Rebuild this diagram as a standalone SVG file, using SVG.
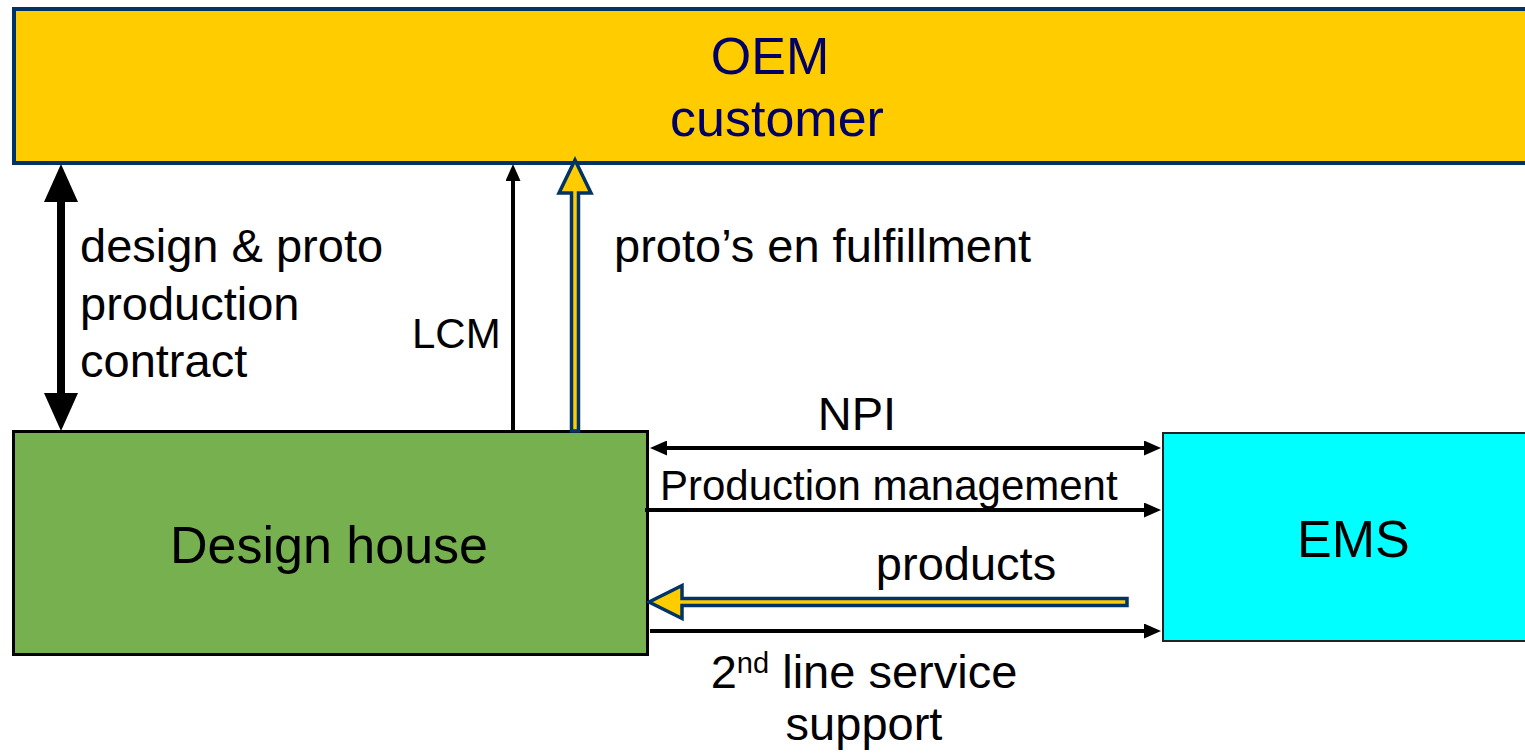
<svg xmlns="http://www.w3.org/2000/svg" width="1525" height="755" viewBox="0 0 1525 755">
  <style>
    text { font-family: "Liberation Sans", Arial, sans-serif; fill: #000; }
    .oem { font-size: 52px; fill: #000066; }
    .lbl { font-size: 47px; }
    .big { font-size: 52px; }
    .mid { font-size: 42px; }
    .thin { stroke: #000; stroke-width: 4; fill: none; }
    .bold { stroke: #000; stroke-width: 8; fill: none; }
    .hollow { fill: #FFCC00; stroke: #003366; stroke-width: 3.5; stroke-linejoin: miter; }
  </style>
  <defs>
    <marker id="head" markerUnits="userSpaceOnUse" viewBox="0 0 17 15" refX="7" refY="7.5" markerWidth="17" markerHeight="15" orient="auto-start-reverse">
      <path d="M0,0 L17,7.5 L0,15 z" fill="#000"/>
    </marker>
    <marker id="headBig" markerUnits="userSpaceOnUse" viewBox="0 0 38 34" refX="20" refY="17" markerWidth="38" markerHeight="34" orient="auto-start-reverse">
      <path d="M0,0 L38,17 L0,34 z" fill="#000"/>
    </marker>
  </defs>

  <!-- OEM customer -->
  <g id="oem">
    <rect x="14" y="9" width="1530" height="154" fill="#FFCC00" stroke="#003366" stroke-width="4"/>
    <text class="oem" x="770" y="74" text-anchor="middle">OEM</text>
    <text class="oem" x="777" y="136" text-anchor="middle">customer</text>
  </g>

  <!-- Design house -->
  <g id="design-house">
    <rect x="13.5" y="431.5" width="634" height="223" fill="#77B04F" stroke="#000" stroke-width="3"/>
    <text class="big" x="170" y="563">Design house</text>
  </g>

  <!-- EMS -->
  <g id="ems">
    <rect x="1163" y="433" width="400" height="208" fill="#00FFFF" stroke="#222" stroke-width="2"/>
    <text class="big" x="1297" y="557">EMS</text>
  </g>

  <!-- connectors -->
  <g id="connectors">
    <!-- design & proto production contract -->
    <line class="bold" x1="61" y1="182" x2="61" y2="413" marker-start="url(#headBig)" marker-end="url(#headBig)"/>
    <!-- LCM -->
    <line class="thin" x1="513" y1="431" x2="513" y2="174" marker-end="url(#head)"/>
    <!-- proto's en fulfillment (hollow yellow arrow) -->
    <path class="hollow" d="M575,160 L591,193 L578.5,193 L578.5,431 L571.5,431 L571.5,193 L559,193 Z"/>
    <!-- NPI -->
    <line class="thin" x1="660" y1="448" x2="1151" y2="448" marker-start="url(#head)" marker-end="url(#head)"/>
    <!-- Production management -->
    <line class="thin" x1="645" y1="510" x2="1151" y2="510" marker-end="url(#head)"/>
    <!-- products (hollow yellow arrow) -->
    <path class="hollow" d="M649,602 L682,585.5 L682,598.5 L1127,598.5 L1127,605.5 L682,605.5 L682,618.5 Z"/>
    <!-- 2nd line service support -->
    <line class="thin" x1="650" y1="631" x2="1151" y2="631" marker-end="url(#head)"/>
  </g>

  <!-- connector labels -->
  <g id="labels">
    <text class="lbl" x="80" y="262">design &amp; proto</text>
    <text class="lbl" x="80" y="320">production</text>
    <text class="lbl" x="80" y="377">contract</text>
    <text class="mid" x="412" y="348">LCM</text>
    <text class="lbl" x="614" y="262">proto’s en fulfillment</text>
    <text class="lbl" x="857" y="430" text-anchor="middle">NPI</text>
    <text class="mid" x="660" y="500">Production management</text>
    <text class="lbl" x="966" y="580" text-anchor="middle">products</text>
    <text class="lbl" x="864" y="688" text-anchor="middle">2<tspan font-size="29" dy="-15">nd</tspan><tspan dy="15"> line service</tspan></text>
    <text class="lbl" x="864" y="740" text-anchor="middle">support</text>
  </g>
</svg>
